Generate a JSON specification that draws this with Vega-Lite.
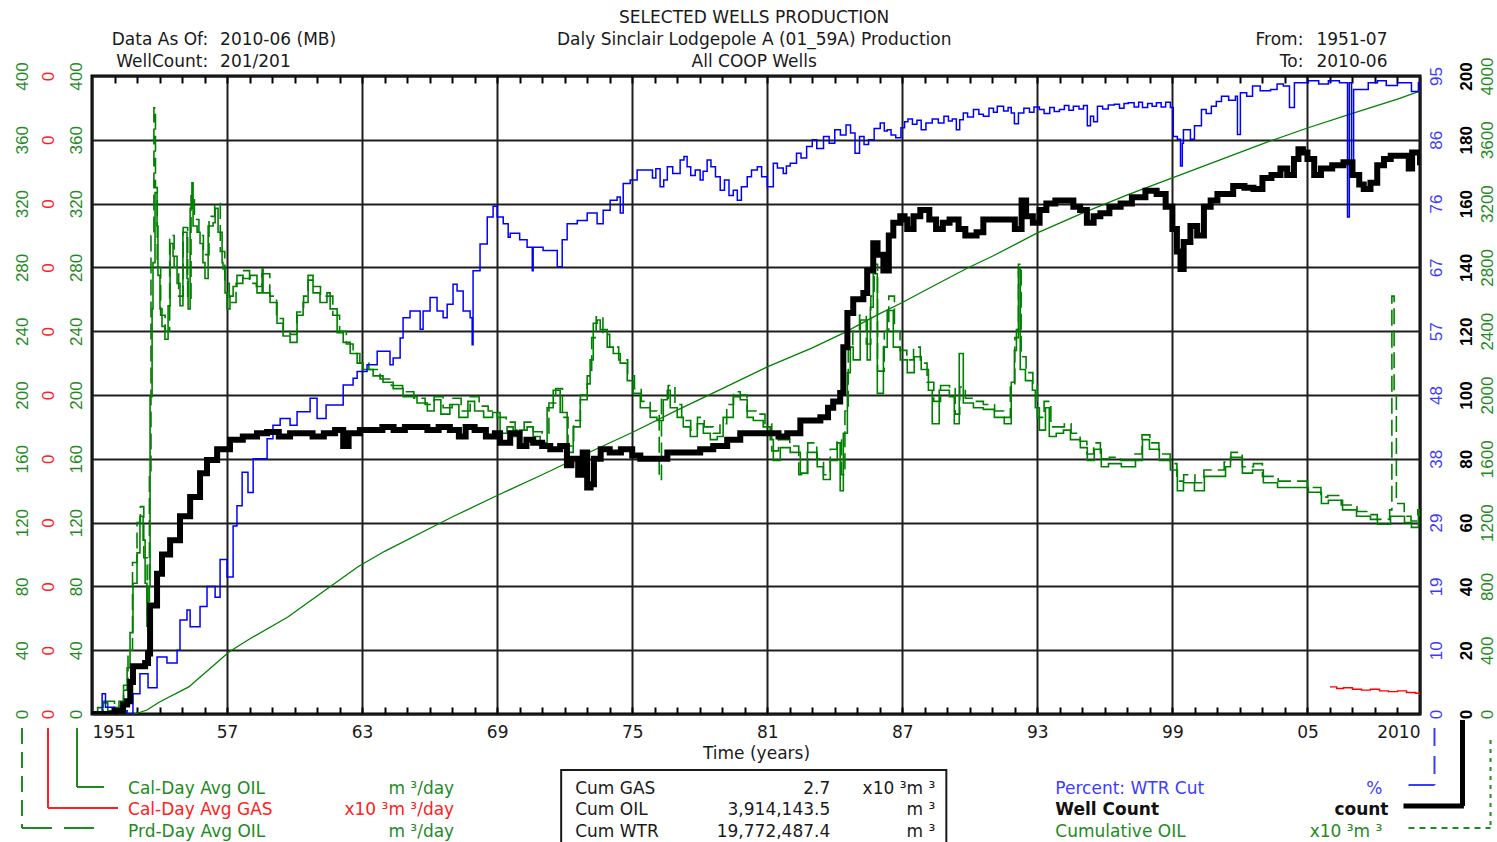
{
 "$schema": "https://vega.github.io/schema/vega-lite/v6.json",
 "width": 1328, "height": 638,
 "autosize": "none",
 "padding": {"left": 92, "top": 76, "right": 77, "bottom": 128},
 "background": "white",
 "config": {
  "font": "DejaVu Sans",
  "view": {"stroke": "#000000", "strokeWidth": 3},
  "axis": {"labelFont": "Liberation Sans", "titleFont": "DejaVu Sans"},
  "text": {"font": "DejaVu Sans", "fontSize": 17}
 },
 "datasets": {
  "oil": [
   {"t":1951.0,"v":0},{"t":1951.25,"v":4},{"t":1951.5,"v":7},{"t":1951.7,"v":2},{"t":1952.0,"v":4},{"t":1952.2,"v":8},{"t":1952.4,"v":15},{"t":1952.56,"v":29},{"t":1952.69,"v":51},{"t":1952.82,"v":82},
   {"t":1953.0,"v":101},{"t":1953.13,"v":124},{"t":1953.27,"v":109},{"t":1953.36,"v":82},{"t":1953.44,"v":55},{"t":1953.49,"v":80},{"t":1953.58,"v":199},{"t":1953.67,"v":254},{"t":1953.71,"v":283},{"t":1953.8,"v":327},
   {"t":1953.89,"v":306},{"t":1953.93,"v":275},{"t":1954.02,"v":254},{"t":1954.11,"v":243},{"t":1954.24,"v":235},{"t":1954.38,"v":256},{"t":1954.47,"v":295},{"t":1954.6,"v":287},{"t":1954.78,"v":270},{"t":1954.91,"v":256},
   {"t":1955.04,"v":302},{"t":1955.22,"v":273},{"t":1955.27,"v":254},{"t":1955.36,"v":317},{"t":1955.44,"v":333},{"t":1955.49,"v":306},{"t":1955.67,"v":302},{"t":1955.8,"v":295},{"t":1955.93,"v":283},{"t":1956.02,"v":273},
   {"t":1956.16,"v":306},{"t":1956.38,"v":308},{"t":1956.47,"v":317},{"t":1956.6,"v":302},{"t":1956.78,"v":283},{"t":1956.82,"v":279},{"t":1956.91,"v":264},{"t":1957.0,"v":254},{"t":1957.13,"v":262},{"t":1957.27,"v":268},
   {"t":1957.44,"v":275},{"t":1957.71,"v":273},{"t":1958.02,"v":275},{"t":1958.33,"v":264},{"t":1958.56,"v":279},{"t":1958.6,"v":264},{"t":1958.91,"v":258},{"t":1959.22,"v":245},{"t":1959.49,"v":237},{"t":1959.8,"v":233},
   {"t":1960.11,"v":250},{"t":1960.38,"v":258},{"t":1960.6,"v":275},{"t":1960.82,"v":264},{"t":1961.13,"v":258},{"t":1961.44,"v":264},{"t":1961.58,"v":254},{"t":1961.89,"v":239},{"t":1962.16,"v":233},{"t":1962.47,"v":226},
   {"t":1962.78,"v":220},{"t":1963.04,"v":216},{"t":1963.49,"v":212},{"t":1963.93,"v":208},{"t":1964.38,"v":204},{"t":1964.82,"v":199},{"t":1965.44,"v":195},{"t":1965.9,"v":190},{"t":1966.2,"v":197},{"t":1966.5,"v":188},
   {"t":1966.9,"v":194},{"t":1967.3,"v":186},{"t":1967.7,"v":196},{"t":1968.0,"v":190},{"t":1968.4,"v":186},{"t":1968.8,"v":189},{"t":1969.13,"v":176},{"t":1969.44,"v":180},{"t":1969.71,"v":174},{"t":1970.0,"v":178},
   {"t":1970.33,"v":180},{"t":1970.6,"v":174},{"t":1970.91,"v":170},{"t":1971.22,"v":192},{"t":1971.49,"v":203},{"t":1971.8,"v":189},{"t":1972.11,"v":164},{"t":1972.38,"v":180},{"t":1972.69,"v":197},{"t":1973.0,"v":207},
   {"t":1973.13,"v":222},{"t":1973.27,"v":245},{"t":1973.44,"v":247},{"t":1973.58,"v":241},{"t":1973.89,"v":230},{"t":1974.16,"v":226},{"t":1974.47,"v":220},{"t":1974.78,"v":209},{"t":1975.04,"v":201},{"t":1975.36,"v":192},
   {"t":1975.8,"v":186},{"t":1976.1,"v":184},{"t":1976.38,"v":197},{"t":1976.56,"v":203},{"t":1976.69,"v":192},{"t":1977.0,"v":186},{"t":1977.27,"v":180},{"t":1977.58,"v":174},{"t":1977.89,"v":182},{"t":1978.16,"v":176},
   {"t":1978.47,"v":172},{"t":1978.78,"v":174},{"t":1979.04,"v":186},{"t":1979.49,"v":199},{"t":1979.8,"v":197},{"t":1980.11,"v":186},{"t":1980.38,"v":184},{"t":1980.82,"v":180},{"t":1981.13,"v":172},{"t":1981.27,"v":159},
   {"t":1981.58,"v":167},{"t":1982.02,"v":164},{"t":1982.47,"v":151},{"t":1982.78,"v":164},{"t":1983.22,"v":155},{"t":1983.49,"v":147},{"t":1983.8,"v":159},{"t":1984.11,"v":170},{"t":1984.24,"v":140},{"t":1984.38,"v":176},
   {"t":1984.56,"v":214},{"t":1984.69,"v":230},{"t":1984.82,"v":222},{"t":1985.13,"v":247},{"t":1985.44,"v":222},{"t":1985.58,"v":255},{"t":1985.71,"v":276},{"t":1985.89,"v":201},{"t":1986.16,"v":230},{"t":1986.33,"v":253},
   {"t":1986.6,"v":230},{"t":1986.91,"v":222},{"t":1987.22,"v":214},{"t":1987.53,"v":224},{"t":1987.84,"v":216},{"t":1988.16,"v":203},{"t":1988.33,"v":182},{"t":1988.64,"v":203},{"t":1989.09,"v":199},{"t":1989.31,"v":182},
   {"t":1989.53,"v":226},{"t":1989.71,"v":195},{"t":1990.16,"v":192},{"t":1990.6,"v":191},{"t":1991.09,"v":186},{"t":1991.53,"v":182},{"t":1991.84,"v":208},{"t":1991.98,"v":228},{"t":1992.07,"v":241},{"t":1992.16,"v":279},
   {"t":1992.24,"v":216},{"t":1992.47,"v":209},{"t":1992.78,"v":203},{"t":1992.91,"v":192},{"t":1993.09,"v":178},{"t":1993.36,"v":192},{"t":1993.53,"v":174},{"t":1993.84,"v":176},{"t":1994.16,"v":178},{"t":1994.47,"v":172},
   {"t":1994.91,"v":167},{"t":1995.22,"v":159},{"t":1995.53,"v":166},{"t":1995.84,"v":155},{"t":1996.16,"v":157},{"t":1996.73,"v":155},{"t":1997.36,"v":159},{"t":1997.67,"v":172},{"t":1997.98,"v":166},{"t":1998.42,"v":159},
   {"t":1998.91,"v":153},{"t":1999.22,"v":140},{"t":1999.49,"v":145},{"t":1999.98,"v":140},{"t":2000.42,"v":149},{"t":2000.87,"v":149},{"t":2001.36,"v":155},{"t":2001.58,"v":161},{"t":2002.11,"v":151},{"t":2002.56,"v":153},
   {"t":2003.04,"v":145},{"t":2003.67,"v":142},{"t":2004.24,"v":142},{"t":2005.04,"v":139},{"t":2005.62,"v":132},{"t":2005.93,"v":134},{"t":2006.56,"v":128},{"t":2007.18,"v":124},{"t":2007.8,"v":122},{"t":2008.11,"v":119},
   {"t":2008.69,"v":124},{"t":2009.31,"v":120},{"t":2009.62,"v":117},{"t":2009.93,"v":126},{"t":2010.0,"v":124}
  ],
  "prd": [
   {"t":1951.0,"v":0},{"t":1951.5,"v":8},{"t":1952.0,"v":5},{"t":1952.4,"v":18},{"t":1952.6,"v":40},{"t":1952.8,"v":95},{"t":1953.0,"v":120},{"t":1953.15,"v":130},{"t":1953.3,"v":98},{"t":1953.45,"v":62},
   {"t":1953.55,"v":150},{"t":1953.62,"v":300},{"t":1953.75,"v":380},{"t":1953.82,"v":330},{"t":1953.9,"v":280},{"t":1954.05,"v":250},{"t":1954.25,"v":240},{"t":1954.45,"v":300},{"t":1954.65,"v":280},{"t":1954.85,"v":262},
   {"t":1955.05,"v":305},{"t":1955.25,"v":260},{"t":1955.4,"v":325},{"t":1955.55,"v":310},{"t":1955.75,"v":300},{"t":1955.95,"v":288},{"t":1956.2,"v":312},{"t":1956.45,"v":320},{"t":1956.7,"v":290},{"t":1956.9,"v":270},
   {"t":1957.1,"v":258},{"t":1957.4,"v":270},{"t":1957.7,"v":278},{"t":1958.0,"v":270},{"t":1958.3,"v":268},{"t":1958.55,"v":276},{"t":1958.9,"v":262},{"t":1959.2,"v":248},{"t":1959.5,"v":240},{"t":1959.8,"v":238},
   {"t":1960.1,"v":252},{"t":1960.4,"v":262},{"t":1960.6,"v":272},{"t":1960.85,"v":268},{"t":1961.15,"v":262},{"t":1961.45,"v":262},{"t":1961.7,"v":250},{"t":1962.0,"v":240},{"t":1962.3,"v":232},{"t":1962.6,"v":226},
   {"t":1962.9,"v":220},{"t":1963.3,"v":216},{"t":1963.8,"v":210},{"t":1964.3,"v":206},{"t":1964.8,"v":202},{"t":1965.3,"v":198},{"t":1965.8,"v":194},{"t":1966.2,"v":199},{"t":1966.6,"v":192},{"t":1967.0,"v":198},
   {"t":1967.4,"v":190},{"t":1967.8,"v":199},{"t":1968.2,"v":193},{"t":1968.6,"v":190},{"t":1969.0,"v":186},{"t":1969.4,"v":183},{"t":1969.8,"v":178},{"t":1970.2,"v":183},{"t":1970.6,"v":177},{"t":1971.0,"v":176},
   {"t":1971.3,"v":195},{"t":1971.6,"v":204},{"t":1971.9,"v":186},{"t":1972.15,"v":168},{"t":1972.4,"v":184},{"t":1972.7,"v":200},{"t":1973.0,"v":212},{"t":1973.2,"v":236},{"t":1973.4,"v":249},{"t":1973.7,"v":238},
   {"t":1974.0,"v":230},{"t":1974.4,"v":222},{"t":1974.8,"v":212},{"t":1975.1,"v":204},{"t":1975.4,"v":196},{"t":1975.8,"v":190},{"t":1976.1,"v":188},{"t":1976.2,"v":147},{"t":1976.3,"v":198},{"t":1976.6,"v":206},
   {"t":1976.9,"v":194},{"t":1977.2,"v":184},{"t":1977.6,"v":178},{"t":1977.9,"v":186},{"t":1978.2,"v":180},{"t":1978.6,"v":176},{"t":1978.9,"v":182},{"t":1979.2,"v":194},{"t":1979.5,"v":202},{"t":1979.8,"v":200},
   {"t":1980.1,"v":190},{"t":1980.5,"v":188},{"t":1980.9,"v":182},{"t":1981.2,"v":165},{"t":1981.5,"v":172},{"t":1982.0,"v":168},{"t":1982.4,"v":150},{"t":1982.8,"v":170},{"t":1983.2,"v":160},{"t":1983.5,"v":150},
   {"t":1983.8,"v":166},{"t":1984.1,"v":172},{"t":1984.3,"v":150},{"t":1984.45,"v":190},{"t":1984.6,"v":230},{"t":1984.8,"v":240},{"t":1985.1,"v":250},{"t":1985.4,"v":232},{"t":1985.6,"v":262},{"t":1985.75,"v":282},
   {"t":1985.9,"v":215},{"t":1986.2,"v":240},{"t":1986.4,"v":262},{"t":1986.65,"v":240},{"t":1986.9,"v":228},{"t":1987.2,"v":222},{"t":1987.5,"v":230},{"t":1987.8,"v":220},{"t":1988.1,"v":208},{"t":1988.4,"v":196},
   {"t":1988.7,"v":206},{"t":1989.1,"v":204},{"t":1989.35,"v":188},{"t":1989.55,"v":205},{"t":1989.8,"v":198},{"t":1990.2,"v":196},{"t":1990.6,"v":194},{"t":1991.1,"v":190},{"t":1991.5,"v":186},{"t":1991.8,"v":205},
   {"t":1992.0,"v":236},{"t":1992.16,"v":282},{"t":1992.28,"v":224},{"t":1992.5,"v":214},{"t":1992.8,"v":206},{"t":1993.0,"v":186},{"t":1993.3,"v":196},{"t":1993.6,"v":180},{"t":1993.9,"v":180},{"t":1994.2,"v":182},
   {"t":1994.5,"v":176},{"t":1994.9,"v":171},{"t":1995.2,"v":163},{"t":1995.5,"v":170},{"t":1995.8,"v":160},{"t":1996.2,"v":161},{"t":1996.7,"v":159},{"t":1997.3,"v":163},{"t":1997.65,"v":175},{"t":1998.0,"v":170},
   {"t":1998.4,"v":163},{"t":1998.9,"v":157},{"t":1999.2,"v":146},{"t":1999.5,"v":150},{"t":2000.0,"v":145},{"t":2000.4,"v":153},{"t":2000.9,"v":153},{"t":2001.3,"v":158},{"t":2001.6,"v":164},{"t":2002.1,"v":155},
   {"t":2002.6,"v":157},{"t":2003.0,"v":149},{"t":2003.7,"v":146},{"t":2004.2,"v":146},{"t":2005.0,"v":142},{"t":2005.6,"v":136},{"t":2005.9,"v":137},{"t":2006.5,"v":131},{"t":2007.2,"v":127},{"t":2007.8,"v":125},
   {"t":2008.1,"v":122},{"t":2008.65,"v":128},{"t":2008.75,"v":262},{"t":2008.85,"v":200},{"t":2008.95,"v":132},{"t":2009.3,"v":124},{"t":2009.6,"v":121},{"t":2009.9,"v":128},{"t":2010.0,"v":127}
  ],
  "gas": [
   {"t":2006.0,"v":17},{"t":2006.3,"v":16},{"t":2006.6,"v":16.5},{"t":2007.0,"v":15.5},{"t":2007.4,"v":15},{"t":2007.8,"v":15.5},{"t":2008.2,"v":14.5},{"t":2008.6,"v":14},{"t":2009.0,"v":14.5},{"t":2009.4,"v":13.5},{"t":2009.8,"v":13},{"t":2010.0,"v":12}
  ],
  "wtr": [
   {"t":1951.3,"v":0},{"t":1951.45,"v":3},{"t":1951.6,"v":1},{"t":1952.0,"v":0.5},{"t":1952.56,"v":0},{"t":1952.82,"v":3},{"t":1953.13,"v":6},{"t":1953.49,"v":3.9},{"t":1953.89,"v":8.5},{"t":1954.33,"v":7.6},
   {"t":1954.78,"v":9.5},{"t":1954.91,"v":14},{"t":1955.22,"v":15.5},{"t":1955.36,"v":13},{"t":1955.8,"v":16},{"t":1956.11,"v":19},{"t":1956.47,"v":17.4},{"t":1956.69,"v":23},{"t":1957.0,"v":20.4},{"t":1957.27,"v":28},
   {"t":1957.44,"v":31},{"t":1957.67,"v":36},{"t":1957.93,"v":33},{"t":1958.16,"v":38},{"t":1958.47,"v":38},{"t":1958.78,"v":41},{"t":1959.04,"v":43},{"t":1959.36,"v":44},{"t":1959.8,"v":43},{"t":1960.11,"v":45},
   {"t":1960.69,"v":47},{"t":1961.0,"v":44},{"t":1961.4,"v":46},{"t":1961.89,"v":46},{"t":1962.16,"v":49},{"t":1962.6,"v":50},{"t":1962.78,"v":51},{"t":1963.22,"v":52},{"t":1963.67,"v":54},{"t":1963.93,"v":54},
   {"t":1964.24,"v":52},{"t":1964.38,"v":53},{"t":1964.69,"v":56},{"t":1964.82,"v":59},{"t":1965.13,"v":60},{"t":1965.58,"v":57.3},{"t":1965.71,"v":60},{"t":1966.02,"v":62},{"t":1966.33,"v":60},{"t":1966.6,"v":59},
   {"t":1966.78,"v":61},{"t":1967.04,"v":64},{"t":1967.22,"v":63},{"t":1967.49,"v":60},{"t":1967.8,"v":59},{"t":1967.89,"v":55},{"t":1967.93,"v":66},{"t":1968.24,"v":70},{"t":1968.56,"v":74},{"t":1968.82,"v":75.6},
   {"t":1969.0,"v":74},{"t":1969.27,"v":73},{"t":1969.49,"v":71},{"t":1969.58,"v":71.6},{"t":1970.0,"v":70.6},{"t":1970.33,"v":69.5},{"t":1970.56,"v":66},{"t":1970.6,"v":69.5},{"t":1971.04,"v":69},{"t":1971.36,"v":69},
   {"t":1971.67,"v":66.6},{"t":1971.89,"v":70.6},{"t":1972.11,"v":73},{"t":1972.56,"v":73.5},{"t":1973.0,"v":74.6},{"t":1973.44,"v":73},{"t":1973.71,"v":75},{"t":1974.02,"v":76.5},{"t":1974.33,"v":77},{"t":1974.47,"v":74.6},
   {"t":1974.6,"v":79},{"t":1974.91,"v":79.5},{"t":1975.22,"v":81},{"t":1975.67,"v":81},{"t":1975.9,"v":79.8},{"t":1976.05,"v":81.2},{"t":1976.24,"v":78.5},{"t":1976.4,"v":79.5},{"t":1976.56,"v":81.5},{"t":1976.8,"v":80.5},
   {"t":1977.13,"v":82.5},{"t":1977.3,"v":83},{"t":1977.44,"v":81.5},{"t":1977.6,"v":80.2},{"t":1977.8,"v":81},{"t":1978.02,"v":79.5},{"t":1978.15,"v":80.8},{"t":1978.33,"v":82.5},{"t":1978.5,"v":81.5},{"t":1978.7,"v":80},
   {"t":1978.91,"v":78},{"t":1979.1,"v":79.5},{"t":1979.3,"v":77.2},{"t":1979.49,"v":78},{"t":1979.67,"v":76.5},{"t":1979.85,"v":78.5},{"t":1980.11,"v":80},{"t":1980.3,"v":81},{"t":1980.56,"v":81.5},{"t":1980.75,"v":80},
   {"t":1981.0,"v":78.5},{"t":1981.27,"v":82},{"t":1981.45,"v":81.3},{"t":1981.71,"v":80.5},{"t":1981.85,"v":81.6},{"t":1982.02,"v":82},{"t":1982.3,"v":83.5},{"t":1982.5,"v":82.8},{"t":1982.75,"v":84.5},{"t":1983.0,"v":85.5},
   {"t":1983.2,"v":84.2},{"t":1983.5,"v":86},{"t":1983.75,"v":85},{"t":1984.0,"v":87},{"t":1984.25,"v":86.2},{"t":1984.5,"v":87.7},{"t":1984.7,"v":86.5},{"t":1984.9,"v":83.5},{"t":1985.1,"v":86},{"t":1985.3,"v":84.8},
   {"t":1985.5,"v":85.5},{"t":1985.75,"v":87.2},{"t":1986.02,"v":88},{"t":1986.2,"v":86.8},{"t":1986.33,"v":87},{"t":1986.5,"v":86.2},{"t":1986.71,"v":85.8},{"t":1986.94,"v":87.3},{"t":1987.1,"v":88.2},{"t":1987.25,"v":88.6},
   {"t":1987.45,"v":87.8},{"t":1987.65,"v":88.4},{"t":1987.84,"v":87},{"t":1988.05,"v":88},{"t":1988.33,"v":88.6},{"t":1988.6,"v":88},{"t":1988.85,"v":89},{"t":1989.05,"v":88.3},{"t":1989.22,"v":88.6},{"t":1989.4,"v":87},
   {"t":1989.55,"v":88.5},{"t":1989.71,"v":89.5},{"t":1989.9,"v":88.9},{"t":1990.16,"v":90},{"t":1990.4,"v":89.3},{"t":1990.6,"v":89},{"t":1990.85,"v":90.2},{"t":1991.05,"v":89.6},{"t":1991.22,"v":90.5},{"t":1991.5,"v":89.8},
   {"t":1991.7,"v":90.3},{"t":1991.84,"v":89.5},{"t":1991.98,"v":87.9},{"t":1992.16,"v":89.5},{"t":1992.4,"v":90.2},{"t":1992.65,"v":89.6},{"t":1992.85,"v":90.4},{"t":1993.09,"v":90},{"t":1993.3,"v":89.4},{"t":1993.55,"v":90.3},
   {"t":1993.75,"v":89.7},{"t":1993.98,"v":90},{"t":1994.2,"v":90.6},{"t":1994.4,"v":89.9},{"t":1994.6,"v":90.5},{"t":1994.85,"v":90.1},{"t":1995.05,"v":90.6},{"t":1995.22,"v":87.6},{"t":1995.36,"v":89},{"t":1995.5,"v":88.2},
   {"t":1995.67,"v":90.5},{"t":1995.9,"v":90.1},{"t":1996.15,"v":90.7},{"t":1996.42,"v":90.8},{"t":1996.65,"v":90.2},{"t":1996.85,"v":90.9},{"t":1997.04,"v":91},{"t":1997.3,"v":90.4},{"t":1997.5,"v":91.1},{"t":1997.67,"v":90.3},
   {"t":1997.9,"v":90.9},{"t":1998.1,"v":90.5},{"t":1998.29,"v":91},{"t":1998.5,"v":90.4},{"t":1998.7,"v":91.1},{"t":1998.91,"v":90.3},{"t":1999.04,"v":86},{"t":1999.22,"v":85.6},{"t":1999.36,"v":81.6},{"t":1999.44,"v":85},
   {"t":1999.49,"v":87},{"t":1999.8,"v":85.6},{"t":1999.98,"v":87.6},{"t":2000.29,"v":90},{"t":2000.5,"v":89.4},{"t":2000.73,"v":90.5},{"t":2000.95,"v":91.2},{"t":2001.18,"v":92},{"t":2001.5,"v":91.4},{"t":2001.8,"v":92},
   {"t":2001.89,"v":86.3},{"t":2002.02,"v":92.5},{"t":2002.3,"v":92},{"t":2002.56,"v":93.5},{"t":2002.9,"v":92.8},{"t":2003.36,"v":93},{"t":2003.65,"v":93.8},{"t":2003.93,"v":93.5},{"t":2004.2,"v":90.3},{"t":2004.42,"v":94},
   {"t":2005.04,"v":94.3},{"t":2005.5,"v":93.8},{"t":2005.93,"v":94.3},{"t":2006.42,"v":94},{"t":2006.78,"v":74},{"t":2006.86,"v":94},{"t":2006.96,"v":80},{"t":2007.05,"v":93},{"t":2007.31,"v":93},{"t":2007.7,"v":94},
   {"t":2008.11,"v":94.3},{"t":2008.5,"v":93.6},{"t":2009.0,"v":94},{"t":2009.62,"v":92.7},{"t":2009.93,"v":94},{"t":2010.0,"v":94}
  ],
  "wells": [
   {"t":1951.0,"v":0},{"t":1951.5,"v":0},{"t":1952.0,"v":1},{"t":1952.38,"v":3},{"t":1952.56,"v":4},{"t":1952.7,"v":10},{"t":1952.82,"v":15},{"t":1953.36,"v":16},{"t":1953.49,"v":19},{"t":1953.58,"v":34},
   {"t":1953.89,"v":44},{"t":1954.11,"v":50},{"t":1954.47,"v":54.5},{"t":1954.91,"v":62},{"t":1955.36,"v":68},{"t":1955.8,"v":75.5},{"t":1956.11,"v":79.6},{"t":1956.56,"v":83},{"t":1957.13,"v":86},{"t":1957.7,"v":87},
   {"t":1958.33,"v":88},{"t":1958.78,"v":88.4},{"t":1959.3,"v":87},{"t":1959.8,"v":88},{"t":1960.3,"v":88},{"t":1960.8,"v":87},{"t":1961.3,"v":88},{"t":1961.8,"v":89},{"t":1962.16,"v":84},{"t":1962.4,"v":88},
   {"t":1962.9,"v":89},{"t":1963.4,"v":89},{"t":1963.9,"v":90},{"t":1964.4,"v":89},{"t":1964.9,"v":90},{"t":1965.4,"v":90},{"t":1965.9,"v":89},{"t":1966.4,"v":90},{"t":1966.9,"v":89},{"t":1967.3,"v":87},
   {"t":1967.6,"v":90},{"t":1968.0,"v":89},{"t":1968.5,"v":87},{"t":1968.9,"v":88},{"t":1969.13,"v":85},{"t":1969.58,"v":88},{"t":1970.0,"v":84},{"t":1970.3,"v":86},{"t":1970.6,"v":85},{"t":1971.0,"v":84},
   {"t":1971.36,"v":83},{"t":1971.8,"v":84},{"t":1972.1,"v":78},{"t":1972.3,"v":80},{"t":1972.6,"v":75},{"t":1972.8,"v":82},{"t":1973.0,"v":71},{"t":1973.15,"v":72},{"t":1973.3,"v":80},{"t":1973.6,"v":83},
   {"t":1974.0,"v":82},{"t":1974.5,"v":83},{"t":1975.0,"v":81},{"t":1975.36,"v":80},{"t":1975.8,"v":80},{"t":1976.56,"v":82},{"t":1977.3,"v":82},{"t":1978.02,"v":83},{"t":1978.6,"v":84},{"t":1979.22,"v":86},
   {"t":1979.8,"v":88},{"t":1980.4,"v":88},{"t":1981.0,"v":88},{"t":1981.5,"v":87},{"t":1981.89,"v":88},{"t":1982.47,"v":92},{"t":1982.9,"v":92},{"t":1983.36,"v":93},{"t":1983.7,"v":96},{"t":1983.93,"v":98},
   {"t":1984.24,"v":100.6},{"t":1984.38,"v":115},{"t":1984.56,"v":125.7},{"t":1984.82,"v":130},{"t":1985.27,"v":132},{"t":1985.44,"v":139},{"t":1985.71,"v":147.6},{"t":1985.9,"v":144},{"t":1986.16,"v":139},{"t":1986.4,"v":150},
   {"t":1986.6,"v":154},{"t":1986.91,"v":156},{"t":1987.1,"v":155},{"t":1987.22,"v":152},{"t":1987.5,"v":156},{"t":1987.8,"v":158},{"t":1988.2,"v":155},{"t":1988.5,"v":152},{"t":1988.8,"v":154},{"t":1989.1,"v":155},
   {"t":1989.5,"v":152},{"t":1989.8,"v":150},{"t":1990.3,"v":151},{"t":1990.6,"v":155},{"t":1991.0,"v":155},{"t":1991.5,"v":155},{"t":1992.0,"v":152},{"t":1992.3,"v":161},{"t":1992.5,"v":156},{"t":1992.8,"v":154},
   {"t":1993.1,"v":158},{"t":1993.4,"v":160},{"t":1993.8,"v":161},{"t":1994.2,"v":161},{"t":1994.6,"v":159},{"t":1994.9,"v":158},{"t":1995.2,"v":154},{"t":1995.5,"v":156},{"t":1995.8,"v":157},{"t":1996.2,"v":159},
   {"t":1996.7,"v":160},{"t":1997.2,"v":162},{"t":1997.8,"v":164},{"t":1998.3,"v":163},{"t":1998.7,"v":159},{"t":1999.0,"v":152},{"t":1999.2,"v":145},{"t":1999.36,"v":139.5},{"t":1999.5,"v":148},{"t":1999.8,"v":153},
   {"t":2000.1,"v":150},{"t":2000.4,"v":159},{"t":2000.7,"v":161},{"t":2001.0,"v":163},{"t":2001.7,"v":165.5},{"t":2002.2,"v":165},{"t":2002.6,"v":164.6},{"t":2003.0,"v":168},{"t":2003.4,"v":169},{"t":2003.8,"v":171},
   {"t":2004.1,"v":169},{"t":2004.4,"v":174},{"t":2004.6,"v":177},{"t":2004.8,"v":176},{"t":2005.0,"v":174},{"t":2005.3,"v":169},{"t":2005.6,"v":171},{"t":2006.1,"v":172},{"t":2006.6,"v":173},{"t":2007.0,"v":169},
   {"t":2007.3,"v":166},{"t":2007.5,"v":164.6},{"t":2007.8,"v":166.5},{"t":2008.1,"v":172},{"t":2008.4,"v":174},{"t":2008.7,"v":175},{"t":2009.0,"v":175},{"t":2009.3,"v":175},{"t":2009.5,"v":171},{"t":2009.65,"v":176},
   {"t":2010.0,"v":172}
  ],
  "cum": [
   {"t":1951.0,"v":0},{"t":1952.9,"v":0},{"t":1953.44,"v":25},{"t":1954.0,"v":75},{"t":1955.3,"v":170},{"t":1956.0,"v":255},{"t":1957.1,"v":390},{"t":1958.0,"v":470},{"t":1959.7,"v":608},{"t":1961.0,"v":740},
   {"t":1962.8,"v":922},{"t":1964.0,"v":1020},{"t":1966.3,"v":1185},{"t":1967.0,"v":1235},{"t":1969.0,"v":1370},{"t":1971.0,"v":1500},{"t":1973.0,"v":1635},{"t":1975.0,"v":1765},{"t":1977.0,"v":1905},{"t":1979.0,"v":2040},
   {"t":1981.0,"v":2176},{"t":1983.0,"v":2295},{"t":1984.4,"v":2389},{"t":1985.0,"v":2435},{"t":1986.0,"v":2510},{"t":1987.0,"v":2580},{"t":1988.0,"v":2655},{"t":1989.9,"v":2796},{"t":1991.0,"v":2870},{"t":1993.0,"v":3016},
   {"t":1995.0,"v":3140},{"t":1997.0,"v":3255},{"t":1999.0,"v":3361},{"t":2001.0,"v":3468},{"t":2003.0,"v":3575},{"t":2005.0,"v":3674},{"t":2007.0,"v":3765},{"t":2009.0,"v":3855},{"t":2010.0,"v":3906}
  ]
 },
 "resolve": {"scale": {"y": "independent"}, "axis": {"x": "independent", "y": "independent"}},
 "layer": [
  {
   "data": {"name": "oil"},
   "mark": {"type": "line", "color": "#008000", "strokeWidth": 1.6, "interpolate": "step-after", "clip": true},
   "encoding": {
    "x": {"field": "t", "type": "quantitative", "scale": {"domain": [1951, 2010], "nice": false, "zero": false},
     "axis": {"orient": "bottom", "values": [1951,1957,1963,1969,1975,1981,1987,1993,1999,2005,2010],
      "labelExpr": "(datum.value == 1951 || datum.value == 2010) ? '' + datum.value : ((datum.value % 100) < 10 ? '0' : '') + (datum.value % 100)",
      "labelFlush": true, "grid": true, "gridColor": "#1e1e1e", "gridWidth": 2, "ticks": false, "tickSize": 0, "domain": false,
      "labelFont": "DejaVu Sans", "labelFontSize": 17, "labelColor": "#1a1a1a", "labelPadding": 10, "labelOverlap": false,
      "title": "Time (years)", "titleFont": "DejaVu Sans", "titleFontSize": 17, "titleFontWeight": "normal", "titleColor": "#1a1a1a", "titlePadding": 5}},
    "y": {"field": "v", "type": "quantitative", "scale": {"domain": [0, 400], "nice": false},
     "axis": {"orient": "left", "values": [0,40,80,120,160,200,240,280,320,360,400], "grid": true, "gridColor": "#1e1e1e", "gridWidth": 2,
      "ticks": false, "tickSize": 0, "domain": false, "labelAngle": -90, "labelAlign": "center", "labelBaseline": "middle",
      "labelPadding": 16, "labelColor": "#1f8a1f", "labelFontSize": 17, "labelOverlap": false, "title": null}}
   }
  },
  {
   "data": {"name": "prd"},
   "mark": {"type": "line", "color": "#008000", "strokeWidth": 1.6, "strokeDash": [16, 6], "interpolate": "step-after", "clip": true},
   "encoding": {
    "x": {"field": "t", "type": "quantitative", "scale": {"domain": [1951, 2010], "nice": false, "zero": false}, "axis": null},
    "y": {"field": "v", "type": "quantitative", "scale": {"domain": [0, 400], "nice": false},
     "axis": {"orient": "left", "values": [0,40,80,120,160,200,240,280,320,360,400], "grid": false,
      "ticks": false, "tickSize": 0, "domain": false, "labelAngle": -90, "labelAlign": "center", "labelBaseline": "middle",
      "labelPadding": 70, "labelColor": "#1f8a1f", "labelFontSize": 17, "labelOverlap": false, "title": null}}
   }
  },
  {
   "data": {"name": "cum"},
   "mark": {"type": "line", "color": "#008000", "strokeWidth": 1.3, "clip": true},
   "encoding": {
    "x": {"field": "t", "type": "quantitative", "scale": {"domain": [1951, 2010], "nice": false, "zero": false},
     "axis": {"orient": "top", "values": [1952,1953,1954,1955,1956,1957,1958,1959,1960,1961,1962,1963,1964,1965,1966,1967,1968,1969,1970,1971,1972,1973,1974,1975,1976,1977,1978,1979,1980,1981,1982,1983,1984,1985,1986,1987,1988,1989,1990,1991,1992,1993,1994,1995,1996,1997,1998,1999,2000,2001,2002,2003,2004,2005,2006,2007,2008,2009],
      "labels": false, "domain": false, "grid": false, "ticks": true, "tickSize": -7, "tickColor": "#000000", "tickWidth": 2, "title": null}},
    "y": {"field": "v", "type": "quantitative", "scale": {"domain": [0, 4000], "nice": false},
     "axis": {"orient": "right", "values": [0,400,800,1200,1600,2000,2400,2800,3200,3600,4000], "format": "d", "grid": false,
      "ticks": false, "tickSize": 0, "domain": false, "labelAngle": -90, "labelAlign": "center", "labelBaseline": "middle",
      "labelPadding": 67, "labelColor": "#1f8a1f", "labelFontSize": 17, "labelOverlap": false, "title": null}}
   }
  },
  {
   "data": {"name": "gas"},
   "mark": {"type": "line", "color": "#ff0000", "strokeWidth": 1.4, "interpolate": "step-after", "clip": true},
   "encoding": {
    "x": {"field": "t", "type": "quantitative", "scale": {"domain": [1951, 2010], "nice": false, "zero": false}, "axis": null},
    "y": {"field": "v", "type": "quantitative", "scale": {"domain": [0, 400], "nice": false},
     "axis": {"orient": "left", "values": [0,40,80,120,160,200,240,280,320,360,400], "labelExpr": "'0'", "grid": false,
      "ticks": false, "tickSize": 0, "domain": false, "labelAngle": -90, "labelAlign": "center", "labelBaseline": "middle",
      "labelPadding": 44, "labelColor": "#ff2020", "labelFontSize": 17, "labelOverlap": false, "title": null}}
   }
  },
  {
   "data": {"name": "wtr"},
   "mark": {"type": "line", "color": "#0000ff", "strokeWidth": 1.5, "interpolate": "step-after", "clip": true},
   "encoding": {
    "x": {"field": "t", "type": "quantitative", "scale": {"domain": [1951, 2010], "nice": false, "zero": false},
     "axis": {"orient": "bottom", "values": [1952,1953,1954,1955,1956,1957,1958,1959,1960,1961,1962,1963,1964,1965,1966,1967,1968,1969,1970,1971,1972,1973,1974,1975,1976,1977,1978,1979,1980,1981,1982,1983,1984,1985,1986,1987,1988,1989,1990,1991,1992,1993,1994,1995,1996,1997,1998,1999,2000,2001,2002,2003,2004,2005,2006,2007,2008,2009],
      "labels": false, "domain": false, "grid": false, "ticks": true, "tickSize": -7, "tickColor": "#000000", "tickWidth": 2, "title": null}},
    "y": {"field": "v", "type": "quantitative", "scale": {"domain": [0, 95], "nice": false},
     "axis": {"orient": "right", "values": [0,9.5,19,28.5,38,47.5,57,66.5,76,85.5,95], "format": ".0f", "grid": false,
      "ticks": false, "tickSize": 0, "domain": false, "labelAngle": -90, "labelAlign": "center", "labelBaseline": "middle",
      "labelPadding": 16, "labelColor": "#3c3cff", "labelFontSize": 17, "labelOverlap": false, "title": null}}
   }
  },
  {
   "data": {"name": "wells"},
   "mark": {"type": "line", "color": "#000000", "strokeWidth": 6, "interpolate": "step-after", "clip": true},
   "encoding": {
    "x": {"field": "t", "type": "quantitative", "scale": {"domain": [1951, 2010], "nice": false, "zero": false}, "axis": null},
    "y": {"field": "v", "type": "quantitative", "scale": {"domain": [0, 200], "nice": false},
     "axis": {"orient": "right", "values": [0,20,40,60,80,100,120,140,160,180,200], "grid": false,
      "ticks": false, "tickSize": 0, "domain": false, "labelAngle": -90, "labelAlign": "center", "labelBaseline": "middle",
      "labelPadding": 46, "labelColor": "#000000", "labelFontWeight": "bold", "labelFontSize": 17, "labelOverlap": false, "title": null}}
   }
  },
  {
   "data": {"values": [{}]},
   "layer": [
    {"mark": {"type": "text", "align": "center", "baseline": "middle", "lineHeight": 22, "fontSize": 17, "color": "#1a1a1a", "clip": false},
     "encoding": {"x": {"datum": 1980.42, "type": "quantitative", "scale": {"domain": [1951, 2010], "nice": false, "zero": false}, "axis": null},
      "y": {"datum": 436.4, "type": "quantitative", "scale": {"domain": [0, 400], "nice": false}, "axis": null},
      "text": {"value": ["SELECTED WELLS PRODUCTION", "Daly Sinclair Lodgepole A (01_59A) Production", "All COOP Wells"]}}},
    {"mark": {"type": "text", "align": "right", "baseline": "middle", "lineHeight": 22, "fontSize": 17, "color": "#1a1a1a", "clip": false},
     "encoding": {"x": {"datum": 1956.16, "type": "quantitative", "scale": {"domain": [1951, 2010], "nice": false, "zero": false}, "axis": null},
      "y": {"datum": 422.6, "type": "quantitative", "scale": {"domain": [0, 400], "nice": false}, "axis": null},
      "text": {"value": ["Data As Of:", "WellCount:"]}}},
    {"mark": {"type": "text", "align": "left", "baseline": "middle", "lineHeight": 22, "fontSize": 17, "color": "#1a1a1a", "clip": false},
     "encoding": {"x": {"datum": 1956.69, "type": "quantitative", "scale": {"domain": [1951, 2010], "nice": false, "zero": false}, "axis": null},
      "y": {"datum": 422.6, "type": "quantitative", "scale": {"domain": [0, 400], "nice": false}, "axis": null},
      "text": {"value": ["2010-06 (MB)", "201/201"]}}},
    {"mark": {"type": "text", "align": "right", "baseline": "middle", "lineHeight": 22, "fontSize": 17, "color": "#1a1a1a", "clip": false},
     "encoding": {"x": {"datum": 2004.82, "type": "quantitative", "scale": {"domain": [1951, 2010], "nice": false, "zero": false}, "axis": null},
      "y": {"datum": 422.6, "type": "quantitative", "scale": {"domain": [0, 400], "nice": false}, "axis": null},
      "text": {"value": ["From:", "To:"]}}},
    {"mark": {"type": "text", "align": "left", "baseline": "middle", "lineHeight": 22, "fontSize": 17, "color": "#1a1a1a", "clip": false},
     "encoding": {"x": {"datum": 2005.4, "type": "quantitative", "scale": {"domain": [1951, 2010], "nice": false, "zero": false}, "axis": null},
      "y": {"datum": 422.6, "type": "quantitative", "scale": {"domain": [0, 400], "nice": false}, "axis": null},
      "text": {"value": ["1951-07", "2010-06"]}}},

    {"mark": {"type": "text", "align": "left", "baseline": "middle", "fontSize": 17, "color": "#1f8a1f", "clip": false},
     "encoding": {"x": {"datum": 1952.6, "type": "quantitative", "scale": {"domain": [1951, 2010], "nice": false, "zero": false}, "axis": null},
      "y": {"datum": -47.0, "type": "quantitative", "scale": {"domain": [0, 400], "nice": false}, "axis": null},
      "text": {"value": "Cal-Day Avg OIL"}}},
    {"mark": {"type": "text", "align": "left", "baseline": "middle", "fontSize": 17, "color": "#ff2020", "clip": false},
     "encoding": {"x": {"datum": 1952.6, "type": "quantitative", "scale": {"domain": [1951, 2010], "nice": false, "zero": false}, "axis": null},
      "y": {"datum": -60.2, "type": "quantitative", "scale": {"domain": [0, 400], "nice": false}, "axis": null},
      "text": {"value": "Cal-Day Avg GAS"}}},
    {"mark": {"type": "text", "align": "left", "baseline": "middle", "fontSize": 17, "color": "#1f8a1f", "clip": false},
     "encoding": {"x": {"datum": 1952.6, "type": "quantitative", "scale": {"domain": [1951, 2010], "nice": false, "zero": false}, "axis": null},
      "y": {"datum": -74.0, "type": "quantitative", "scale": {"domain": [0, 400], "nice": false}, "axis": null},
      "text": {"value": "Prd-Day Avg OIL"}}},
    {"mark": {"type": "text", "align": "right", "baseline": "middle", "fontSize": 17, "color": "#1f8a1f", "clip": false},
     "encoding": {"x": {"datum": 1967.09, "type": "quantitative", "scale": {"domain": [1951, 2010], "nice": false, "zero": false}, "axis": null},
      "y": {"datum": -47.0, "type": "quantitative", "scale": {"domain": [0, 400], "nice": false}, "axis": null},
      "text": {"value": "m ³/day"}}},
    {"mark": {"type": "text", "align": "right", "baseline": "middle", "fontSize": 17, "color": "#ff2020", "clip": false},
     "encoding": {"x": {"datum": 1967.09, "type": "quantitative", "scale": {"domain": [1951, 2010], "nice": false, "zero": false}, "axis": null},
      "y": {"datum": -60.2, "type": "quantitative", "scale": {"domain": [0, 400], "nice": false}, "axis": null},
      "text": {"value": "x10 ³m ³/day"}}},
    {"mark": {"type": "text", "align": "right", "baseline": "middle", "fontSize": 17, "color": "#1f8a1f", "clip": false},
     "encoding": {"x": {"datum": 1967.09, "type": "quantitative", "scale": {"domain": [1951, 2010], "nice": false, "zero": false}, "axis": null},
      "y": {"datum": -74.0, "type": "quantitative", "scale": {"domain": [0, 400], "nice": false}, "axis": null},
      "text": {"value": "m ³/day"}}},

    {"mark": {"type": "rule", "color": "#1f8a1f", "strokeWidth": 2, "clip": false},
     "encoding": {"x": {"datum": 1950.333, "type": "quantitative", "scale": {"domain": [1951, 2010], "nice": false, "zero": false}, "axis": null},
      "y": {"datum": -8.78, "type": "quantitative", "scale": {"domain": [0, 400], "nice": false}, "axis": null}, "y2": {"datum": -45.77}}},
    {"mark": {"type": "rule", "color": "#1f8a1f", "strokeWidth": 2, "clip": false},
     "encoding": {"x": {"datum": 1950.333, "type": "quantitative", "scale": {"domain": [1951, 2010], "nice": false, "zero": false}, "axis": null},
      "x2": {"datum": 1951.533}, "y": {"datum": -45.77, "type": "quantitative", "scale": {"domain": [0, 400], "nice": false}, "axis": null}}},
    {"mark": {"type": "rule", "color": "#ff2020", "strokeWidth": 2, "clip": false},
     "encoding": {"x": {"datum": 1949.044, "type": "quantitative", "scale": {"domain": [1951, 2010], "nice": false, "zero": false}, "axis": null},
      "y": {"datum": -8.78, "type": "quantitative", "scale": {"domain": [0, 400], "nice": false}, "axis": null}, "y2": {"datum": -58.93}}},
    {"mark": {"type": "rule", "color": "#ff2020", "strokeWidth": 2, "clip": false},
     "encoding": {"x": {"datum": 1949.044, "type": "quantitative", "scale": {"domain": [1951, 2010], "nice": false, "zero": false}, "axis": null},
      "x2": {"datum": 1952.156}, "y": {"datum": -58.93, "type": "quantitative", "scale": {"domain": [0, 400], "nice": false}, "axis": null}}},
    {"mark": {"type": "rule", "color": "#1f8a1f", "strokeWidth": 2, "strokeDash": [16, 8], "clip": false},
     "encoding": {"x": {"datum": 1947.889, "type": "quantitative", "scale": {"domain": [1951, 2010], "nice": false, "zero": false}, "axis": null},
      "y": {"datum": -8.78, "type": "quantitative", "scale": {"domain": [0, 400], "nice": false}, "axis": null}, "y2": {"datum": -71.47}}},
    {"mark": {"type": "rule", "color": "#1f8a1f", "strokeWidth": 2, "strokeDash": [30, 12], "clip": false},
     "encoding": {"x": {"datum": 1947.889, "type": "quantitative", "scale": {"domain": [1951, 2010], "nice": false, "zero": false}, "axis": null},
      "x2": {"datum": 1951.356}, "y": {"datum": -71.47, "type": "quantitative", "scale": {"domain": [0, 400], "nice": false}, "axis": null}}},

    {"mark": {"type": "rect", "fill": "white", "stroke": "#1a1a1a", "strokeWidth": 2, "clip": false},
     "encoding": {"x": {"datum": 1971.844, "type": "quantitative", "scale": {"domain": [1951, 2010], "nice": false, "zero": false}, "axis": null},
      "x2": {"datum": 1988.956},
      "y": {"datum": -35.11, "type": "quantitative", "scale": {"domain": [0, 400], "nice": false}, "axis": null}, "y2": {"datum": -89.65}}},
    {"mark": {"type": "text", "align": "left", "baseline": "middle", "lineHeight": 21.5, "fontSize": 17, "color": "#1a1a1a", "clip": false},
     "encoding": {"x": {"datum": 1972.467, "type": "quantitative", "scale": {"domain": [1951, 2010], "nice": false, "zero": false}, "axis": null},
      "y": {"datum": -47.0, "type": "quantitative", "scale": {"domain": [0, 400], "nice": false}, "axis": null},
      "text": {"value": ["Cum GAS", "Cum OIL", "Cum WTR"]}}},
    {"mark": {"type": "text", "align": "right", "baseline": "middle", "lineHeight": 21.5, "fontSize": 17, "color": "#1a1a1a", "clip": false},
     "encoding": {"x": {"datum": 1983.8, "type": "quantitative", "scale": {"domain": [1951, 2010], "nice": false, "zero": false}, "axis": null},
      "y": {"datum": -47.0, "type": "quantitative", "scale": {"domain": [0, 400], "nice": false}, "axis": null},
      "text": {"value": ["2.7", "3,914,143.5", "19,772,487.4"]}}},
    {"mark": {"type": "text", "align": "right", "baseline": "middle", "lineHeight": 21.5, "fontSize": 17, "color": "#1a1a1a", "clip": false},
     "encoding": {"x": {"datum": 1988.467, "type": "quantitative", "scale": {"domain": [1951, 2010], "nice": false, "zero": false}, "axis": null},
      "y": {"datum": -47.0, "type": "quantitative", "scale": {"domain": [0, 400], "nice": false}, "axis": null},
      "text": {"value": ["x10 ³m ³", "m ³", "m ³"]}}},

    {"mark": {"type": "text", "align": "left", "baseline": "middle", "fontSize": 17, "color": "#3c3cff", "clip": false},
     "encoding": {"x": {"datum": 1993.8, "type": "quantitative", "scale": {"domain": [1951, 2010], "nice": false, "zero": false}, "axis": null},
      "y": {"datum": -47.0, "type": "quantitative", "scale": {"domain": [0, 400], "nice": false}, "axis": null},
      "text": {"value": "Percent: WTR Cut"}}},
    {"mark": {"type": "text", "align": "left", "baseline": "middle", "fontSize": 17, "fontWeight": "bold", "color": "#111111", "clip": false},
     "encoding": {"x": {"datum": 1993.8, "type": "quantitative", "scale": {"domain": [1951, 2010], "nice": false, "zero": false}, "axis": null},
      "y": {"datum": -60.2, "type": "quantitative", "scale": {"domain": [0, 400], "nice": false}, "axis": null},
      "text": {"value": "Well Count"}}},
    {"mark": {"type": "text", "align": "left", "baseline": "middle", "fontSize": 17, "color": "#1f8a1f", "clip": false},
     "encoding": {"x": {"datum": 1993.8, "type": "quantitative", "scale": {"domain": [1951, 2010], "nice": false, "zero": false}, "axis": null},
      "y": {"datum": -74.0, "type": "quantitative", "scale": {"domain": [0, 400], "nice": false}, "axis": null},
      "text": {"value": "Cumulative OIL"}}},
    {"mark": {"type": "text", "align": "right", "baseline": "middle", "fontSize": 17, "color": "#3c3cff", "clip": false},
     "encoding": {"x": {"datum": 2008.33, "type": "quantitative", "scale": {"domain": [1951, 2010], "nice": false, "zero": false}, "axis": null},
      "y": {"datum": -47.0, "type": "quantitative", "scale": {"domain": [0, 400], "nice": false}, "axis": null},
      "text": {"value": "%"}}},
    {"mark": {"type": "text", "align": "right", "baseline": "middle", "fontSize": 17, "fontWeight": "bold", "color": "#111111", "clip": false},
     "encoding": {"x": {"datum": 2008.6, "type": "quantitative", "scale": {"domain": [1951, 2010], "nice": false, "zero": false}, "axis": null},
      "y": {"datum": -60.2, "type": "quantitative", "scale": {"domain": [0, 400], "nice": false}, "axis": null},
      "text": {"value": "count"}}},
    {"mark": {"type": "text", "align": "right", "baseline": "middle", "fontSize": 17, "color": "#1f8a1f", "clip": false},
     "encoding": {"x": {"datum": 2008.33, "type": "quantitative", "scale": {"domain": [1951, 2010], "nice": false, "zero": false}, "axis": null},
      "y": {"datum": -74.0, "type": "quantitative", "scale": {"domain": [0, 400], "nice": false}, "axis": null},
      "text": {"value": "x10 ³m ³"}}},

    {"mark": {"type": "rule", "color": "#3c3cff", "strokeWidth": 2, "strokeDash": [18, 10], "clip": false},
     "encoding": {"x": {"datum": 2010.644, "type": "quantitative", "scale": {"domain": [1951, 2010], "nice": false, "zero": false}, "axis": null},
      "y": {"datum": -8.78, "type": "quantitative", "scale": {"domain": [0, 400], "nice": false}, "axis": null}, "y2": {"datum": -44.51}}},
    {"mark": {"type": "rule", "color": "#3c3cff", "strokeWidth": 2, "clip": false},
     "encoding": {"x": {"datum": 2009.489, "type": "quantitative", "scale": {"domain": [1951, 2010], "nice": false, "zero": false}, "axis": null},
      "x2": {"datum": 2010.644}, "y": {"datum": -44.51, "type": "quantitative", "scale": {"domain": [0, 400], "nice": false}, "axis": null}}},
    {"mark": {"type": "rule", "color": "#000000", "strokeWidth": 5, "clip": false},
     "encoding": {"x": {"datum": 2011.889, "type": "quantitative", "scale": {"domain": [1951, 2010], "nice": false, "zero": false}, "axis": null},
      "y": {"datum": -3.76, "type": "quantitative", "scale": {"domain": [0, 400], "nice": false}, "axis": null}, "y2": {"datum": -57.68}}},
    {"mark": {"type": "rule", "color": "#000000", "strokeWidth": 5, "clip": false},
     "encoding": {"x": {"datum": 2009.267, "type": "quantitative", "scale": {"domain": [1951, 2010], "nice": false, "zero": false}, "axis": null},
      "x2": {"datum": 2011.95}, "y": {"datum": -57.68, "type": "quantitative", "scale": {"domain": [0, 400], "nice": false}, "axis": null}}},
    {"mark": {"type": "rule", "color": "#1f8a1f", "strokeWidth": 2, "strokeDash": [4, 5], "clip": false},
     "encoding": {"x": {"datum": 2013.133, "type": "quantitative", "scale": {"domain": [1951, 2010], "nice": false, "zero": false}, "axis": null},
      "y": {"datum": -16.3, "type": "quantitative", "scale": {"domain": [0, 400], "nice": false}, "axis": null}, "y2": {"datum": -71.47}}},
    {"mark": {"type": "rule", "color": "#1f8a1f", "strokeWidth": 2, "strokeDash": [6, 5], "clip": false},
     "encoding": {"x": {"datum": 2009.489, "type": "quantitative", "scale": {"domain": [1951, 2010], "nice": false, "zero": false}, "axis": null},
      "x2": {"datum": 2013.133}, "y": {"datum": -71.47, "type": "quantitative", "scale": {"domain": [0, 400], "nice": false}, "axis": null}}}
   ]
  }
 ]
}
